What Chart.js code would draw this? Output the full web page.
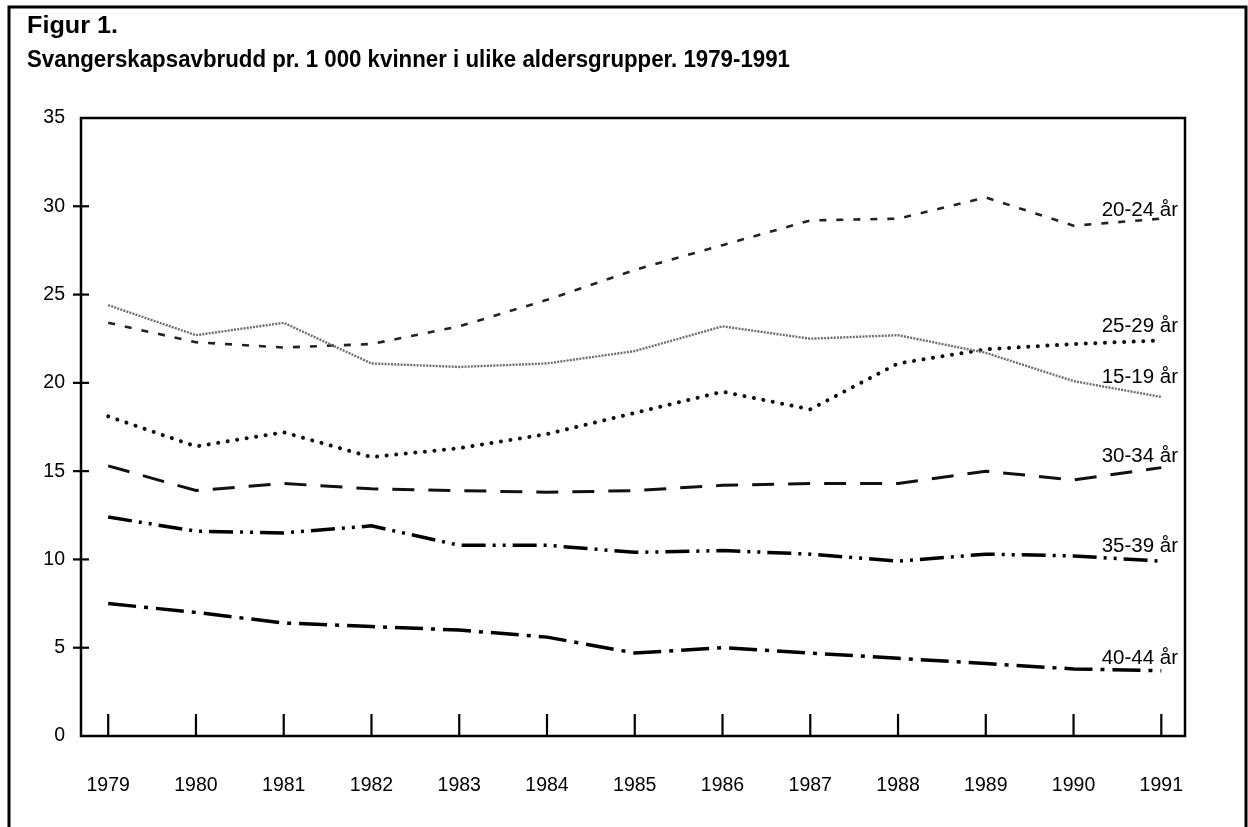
<!DOCTYPE html>
<html>
<head>
<meta charset="utf-8">
<script src="https://cdn.jsdelivr.net/npm/chart.js@4/dist/chart.umd.min.js"></script>
<style>
  html, body { margin:0; padding:0; background:#fff; }
  #wrap { position:relative; width:1248px; height:827px; }
</style>
</head>
<body>
<div id="wrap"><canvas id="c" width="1248" height="827"></canvas></div>
<script>
const titleLine1 = "Figur 1.";
const titleLine2 = "Svangerskapsavbrudd pr. 1 000 kvinner i ulike aldersgrupper. 1979-1991";
const years = [1979,1980,1981,1982,1983,1984,1985,1986,1987,1988,1989,1990,1991];
const yTicks = [0,5,10,15,20,25,30,35];
const seriesNames = ["15-19 år","20-24 år","25-29 år","30-34 år","35-39 år","40-44 år"];
const s1519 = [24.4,22.7,23.4,21.1,20.9,21.1,21.8,23.2,22.5,22.7,21.7,20.1,19.2];
const s2024 = [23.4,22.3,22.0,22.2,23.2,24.7,26.4,27.8,29.2,29.3,30.5,28.9,29.3];
const s2529 = [18.1,16.4,17.2,15.8,16.3,17.1,18.3,19.5,18.5,21.1,21.9,22.2,22.4];
const s3034 = [15.3,13.9,14.3,14.0,13.9,13.8,13.9,14.2,14.3,14.3,15.0,14.5,15.2];
const s3539 = [12.4,11.6,11.5,11.9,10.8,10.8,10.4,10.5,10.3,9.9,10.3,10.2,9.9];
const s4044 = [7.5,7.0,6.4,6.2,6.0,5.6,4.7,5.0,4.7,4.4,4.1,3.8,3.7];

const pts = arr => arr.map((v,i) => ({x: years[i], y: v}));
const FONT = "'Liberation Sans', Arial, Helvetica, sans-serif";

const styles = [
  {color:'#6e6e6e', width:2.4, dash:[2,1.2], cap:'butt', labelOff:14},
  {color:'#222', width:2.6, dash:[7,10], cap:'butt', labelOff:3},
  {color:'#111', width:4, dash:[0.1,9.5], cap:'round', labelOff:8},
  {color:'#111', width:3, dash:[22,14], cap:'butt', labelOff:6},
  {color:'#000', width:3.5, dash:[24,7,3,7,3,7], cap:'butt', labelOff:9},
  {color:'#000', width:3.5, dash:[28,8,4,8], cap:'butt', labelOff:7}
];
const seriesData = [s1519, s2024, s2529, s3034, s3539, s4044];

const datasets = seriesData.map((arr, i) => ({
  label: seriesNames[i],
  data: pts(arr),
  borderColor: styles[i].color,
  borderWidth: styles[i].width,
  borderDash: styles[i].dash,
  borderCapStyle: styles[i].cap,
  pointRadius: 0,
  tension: 0,
  fill: false,
  labelOff: styles[i].labelOff
}));

const decor = {
  id: 'decor',
  beforeDraw(chart) {
    const ctx = chart.ctx;
    ctx.save();
    ctx.fillStyle = '#fff';
    ctx.fillRect(0,0,chart.width,chart.height);
    ctx.strokeStyle = '#000';
    ctx.lineWidth = 3;
    ctx.beginPath();
    ctx.moveTo(9, 827); ctx.lineTo(9, 7); ctx.lineTo(1246, 7); ctx.lineTo(1246, 827);
    ctx.stroke();
    ctx.fillStyle = '#000';
    ctx.textBaseline = 'alphabetic';
    ctx.textAlign = 'left';
    ctx.font = "bold 23px " + FONT;
    let w1 = ctx.measureText(titleLine1).width;
    ctx.save(); ctx.translate(27, 33); ctx.scale(91 / w1, 1); ctx.fillText(titleLine1, 0, 0); ctx.restore();
    let w2 = ctx.measureText(titleLine2).width;
    ctx.save(); ctx.translate(27, 67); ctx.scale(763 / w2, 1); ctx.fillText(titleLine2, 0, 0); ctx.restore();
    ctx.restore();
  },
  afterDatasetsDraw(chart) {
    const ctx = chart.ctx;
    const a = chart.chartArea;
    const xs = chart.scales.x, ys = chart.scales.y;
    ctx.save();
    ctx.strokeStyle = '#000';
    ctx.lineWidth = 2.5;
    ctx.setLineDash([]);
    ctx.strokeRect(a.left, a.top, a.right - a.left, a.bottom - a.top);
    ctx.lineWidth = 2.2;
    yTicks.forEach(v => {
      if (v === 0 || v === 35) return;
      const y = ys.getPixelForValue(v);
      ctx.beginPath(); ctx.moveTo(a.left - 8, y); ctx.lineTo(a.left + 8, y); ctx.stroke();
    });
    years.forEach(yr => {
      const x = xs.getPixelForValue(yr);
      ctx.beginPath(); ctx.moveTo(x, a.bottom); ctx.lineTo(x, a.bottom - 22); ctx.stroke();
    });
    ctx.fillStyle = '#000';
    ctx.font = "20.5px " + FONT;
    ctx.textAlign = 'right';
    ctx.textBaseline = 'alphabetic';
    chart.data.datasets.forEach((ds, i) => {
      const meta = chart.getDatasetMeta(i);
      const last = meta.data[meta.data.length - 1];
      ctx.fillText(ds.label, a.right - 7, last.y - ds.labelOff);
    });
    ctx.restore();
  }
};

new Chart(document.getElementById('c'), {
  type: 'line',
  data: { datasets },
  plugins: [decor],
  options: {
    responsive: false,
    animation: false,
    devicePixelRatio: 1,
    layout: { padding: { left: 0, top: 118, right: 63, bottom: 0 } },
    plugins: { legend: { display: false }, tooltip: { enabled: false }, title: { display: false } },
    scales: {
      x: {
        type: 'linear',
        min: 1978.69, max: 1991.27,
        afterFit: s => { s.height = 91; },
        afterBuildTicks: s => { s.ticks = years.map(v => ({value: v})); },
        grid: { display: false, drawTicks: false },
        border: { display: false },
        ticks: {
          padding: 38,
          color: '#000',
          font: { family: FONT, size: 19.5 },
          callback: v => String(v),
          maxRotation: 0, autoSkip: false
        }
      },
      y: {
        min: 0, max: 35,
        afterFit: s => { s.width = 81; },
        afterBuildTicks: s => { s.ticks = yTicks.map(v => ({value: v})); },
        grid: { display: false, drawTicks: false },
        border: { display: false },
        ticks: {
          padding: 16,
          color: '#000',
          font: { family: FONT, size: 19.5 },
          callback: v => String(v)
        }
      }
    }
  }
});
</script>
</body>
</html>
